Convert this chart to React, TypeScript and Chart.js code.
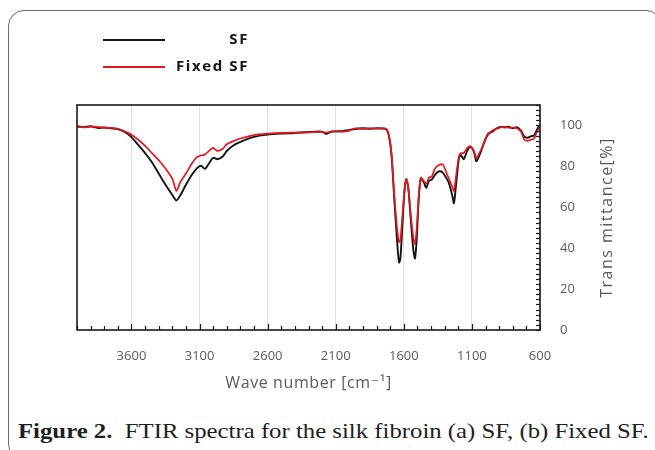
import React, { useEffect, useRef } from "react";
import { Chart, registerables } from "chart.js";

Chart.register(...registerables);

// ---- data ----
const WAVENUMBERS = [
  4000, 3950, 3900, 3850, 3800, 3750, 3700, 3650, 3600, 3550, 3500, 3450, 3400, 3350, 3300, 3270,
  3240, 3200, 3160, 3120, 3090, 3060, 3030, 3000, 2970, 2930, 2900, 2850, 2800, 2700, 2600, 2500,
  2400, 2300, 2200, 2170, 2130, 2050, 2000, 1960, 1900, 1850, 1800, 1760, 1730, 1710, 1690, 1670,
  1650, 1635, 1625, 1610, 1595, 1582, 1568, 1550, 1530, 1518, 1505, 1490, 1475, 1455, 1435, 1415,
  1395, 1370, 1345, 1315, 1290, 1270, 1245, 1232, 1215, 1195, 1180, 1160, 1135, 1110, 1085, 1068,
  1050, 1030, 1005, 980, 950, 920, 890, 860, 830, 800, 770, 740, 715, 690, 665, 645, 625, 610, 600,
];
const SF_VALUES = [
  99.5, 99.2, 99.6, 98.8, 99.0, 98.6, 98.2, 96.8, 94.3, 90.5, 86.5, 82.0, 76.5, 71.0, 66.0, 63.3,
  66.0, 71.0, 75.5, 79.0, 80.3, 78.8, 81.5, 84.2, 83.5, 84.8, 87.5, 90.3, 92.0, 94.4, 95.5, 96.0,
  96.3, 96.8, 97.0, 95.8, 97.0, 97.2, 97.8, 98.3, 98.6, 98.4, 98.6, 98.5, 98.2, 95.0, 85.0, 64.0,
  44.0, 33.0, 35.0, 52.0, 68.0, 73.5, 70.0, 55.0, 39.0, 35.0, 45.0, 65.0, 74.0, 72.5, 69.5, 73.0,
  73.5, 76.0, 77.5, 77.0, 74.5, 72.0, 66.0, 62.0, 72.0, 84.0, 85.5, 83.5, 87.5, 89.5, 87.0, 82.5,
  84.5, 88.0, 92.5, 96.0, 97.0, 98.5, 99.3, 99.0, 99.4, 98.6, 99.2, 97.5, 94.5, 94.0, 94.8, 95.0,
  97.5, 99.5, 100.0,
];
const FIXED_SF_VALUES = [
  99.8, 99.0, 99.4, 99.3, 98.9, 98.8, 98.4, 97.2, 95.5, 93.0, 90.0, 86.5, 83.0, 79.0, 74.0, 68.0,
  72.5, 76.5, 81.0, 84.5, 85.3, 85.8, 87.6, 89.0, 87.6, 88.6, 90.8, 92.4, 93.6, 95.3, 96.0, 96.4,
  96.5, 96.6, 96.9, 96.5, 97.1, 97.0, 97.5, 98.6, 98.3, 98.6, 98.4, 98.6, 98.3, 95.5, 86.0, 66.0,
  50.0, 43.0, 44.0, 56.0, 68.0, 74.0, 70.0, 57.0, 45.0, 42.0, 50.0, 66.0, 74.5, 73.0, 71.5, 74.5,
  75.0, 79.0, 80.5, 81.0, 77.5, 74.0, 70.0, 68.0, 76.0, 85.0, 86.5, 86.5, 89.0, 89.8, 87.5, 84.0,
  86.0, 88.5, 92.8, 95.5, 97.5, 98.3, 99.0, 99.3, 98.9, 99.0, 98.6, 97.0, 93.0, 92.5, 93.0, 93.5,
  96.5, 98.5, 100.0,
];
const SERIES_LABELS = ["SF", "Fixed SF"];
const SERIES_COLORS = ["#141414", "#e3181e"];
const X_TICKS = [3600, 3100, 2600, 2100, 1600, 1100, 600];
const Y_TICKS = [0, 20, 40, 60, 80, 100];
const X_RANGE = [600, 4000];
const Y_RANGE = [0, 110];
const X_MINOR_STEP = 100;
const Y_MINOR_STEP = 2.5;
const X_TITLE = "Wave number [cm⁻¹]";
const Y_TITLE = "Trans mittance[%]";
const CAPTION_BOLD = "Figure 2.";
const CAPTION_TEXT = "  FTIR spectra for the silk fibroin (a) SF, (b) Fixed SF.";

const AXIS_TEXT = "#5a5a5a";
const SANS = "'Open Sans', 'DejaVu Sans', sans-serif";

const decorPlugin = {
  id: "decor",
  afterDatasetsDraw(chart: any) {
    const { ctx, chartArea: a, scales } = chart;
    const x = scales.x;
    const y = scales.y;
    ctx.save();
    // plot frame
    ctx.strokeStyle = "#1a1a1a";
    ctx.lineWidth = 1.6;
    ctx.strokeRect(a.left, a.top, a.right - a.left, a.bottom - a.top);

    // x minor / major ticks (inward)
    ctx.lineWidth = 1.2;
    for (let v = X_RANGE[1]; v >= X_RANGE[0]; v -= X_MINOR_STEP) {
      const px = Math.round(x.getPixelForValue(v)) + 0.5;
      const major = X_TICKS.includes(v);
      ctx.beginPath();
      ctx.moveTo(px, a.bottom);
      ctx.lineTo(px, a.bottom - (major ? 6 : 4));
      ctx.stroke();
    }
    // y ticks on right (inward)
    for (let v = Y_RANGE[0]; v <= Y_RANGE[1]; v += Y_MINOR_STEP) {
      const py = Math.round(y.getPixelForValue(v)) + 0.5;
      ctx.beginPath();
      ctx.moveTo(a.right, py);
      ctx.lineTo(a.right - 4, py);
      ctx.stroke();
    }

    // axis titles
    ctx.fillStyle = AXIS_TEXT;
    ctx.font = `16px ${SANS}`;
    ctx.textAlign = "left";
    ctx.textBaseline = "middle";
    (ctx as any).letterSpacing = "0.6px";
    const xw = ctx.measureText(X_TITLE).width;
    ctx.fillText(X_TITLE, (a.left + a.right) / 2 - xw / 2, 383);

    (ctx as any).letterSpacing = "1.5px";
    const yw = ctx.measureText(Y_TITLE).width;
    ctx.save();
    ctx.translate(607, (a.top + a.bottom) / 2);
    ctx.rotate(-Math.PI / 2);
    ctx.fillText(Y_TITLE, -yw / 2, 0);
    ctx.restore();

    // legend
    const rows = [40, 67];
    (ctx as any).letterSpacing = "1.6px";
    SERIES_LABELS.forEach((label, i) => {
      ctx.strokeStyle = SERIES_COLORS[i];
      ctx.lineWidth = 1.8;
      ctx.beginPath();
      ctx.moveTo(103, rows[i]);
      ctx.lineTo(165, rows[i]);
      ctx.stroke();
      ctx.fillStyle = "#151515";
      ctx.font = `bold 15px ${SANS}`;
      ctx.textAlign = "left";
      ctx.textBaseline = "middle";
      const w = ctx.measureText(label).width;
      ctx.fillText(label, 249 - w, rows[i]);
    });
    (ctx as any).letterSpacing = "0px";
    ctx.restore();
  },
};

export default function App() {
  const ref = useRef<HTMLCanvasElement | null>(null);

  useEffect(() => {
    if (!ref.current) return;
    const chart = new Chart(ref.current, {
      type: "line",
      data: {
        datasets: [
          {
            label: SERIES_LABELS[0],
            data: WAVENUMBERS.map((w, i) => ({ x: w, y: SF_VALUES[i] })),
            borderColor: SERIES_COLORS[0],
            borderWidth: 1.9,
            pointRadius: 0,
            tension: 0.25,
            order: 2,
          },
          {
            label: SERIES_LABELS[1],
            data: WAVENUMBERS.map((w, i) => ({ x: w, y: FIXED_SF_VALUES[i] })),
            borderColor: SERIES_COLORS[1],
            borderWidth: 1.7,
            pointRadius: 0,
            tension: 0.25,
            order: 1,
          },
        ],
      },
      options: {
        responsive: false,
        animation: false,
        layout: { padding: { left: 77, top: 105, right: 0, bottom: 0 } },
        plugins: { legend: { display: false }, tooltip: { enabled: false } },
        scales: {
          x: {
            type: "linear",
            reverse: true,
            min: X_RANGE[0],
            max: X_RANGE[1],
            afterBuildTicks: (s: any) => {
              s.ticks = X_TICKS.map((v) => ({ value: v }));
            },
            afterFit: (s: any) => {
              s.height = 70;
            },
            grid: {
              color: "#dde1e7",
              lineWidth: 1,
              drawTicks: false,
            },
            border: { display: false },
            ticks: {
              padding: 18,
              color: AXIS_TEXT,
              font: { family: SANS, size: 13 },
              maxRotation: 0,
              autoSkip: false,
              callback: (v: any) => String(v),
            },
          },
          y: {
            type: "linear",
            position: "right",
            min: Y_RANGE[0],
            max: Y_RANGE[1],
            afterBuildTicks: (s: any) => {
              s.ticks = Y_TICKS.map((v) => ({ value: v }));
            },
            afterFit: (s: any) => {
              s.width = 115;
            },
            grid: { display: false, drawTicks: false },
            border: { display: false },
            ticks: {
              padding: 20,
              color: AXIS_TEXT,
              font: { family: SANS, size: 13 },
              callback: (v: any) => String(v),
            },
          },
        },
      },
      plugins: [decorPlugin],
    });
    return () => chart.destroy();
  }, []);

  return (
    <div
      style={{
        position: "fixed",
        left: 0,
        top: 0,
        width: 655,
        height: 450,
        overflow: "hidden",
        background: "#fff",
      }}
    >
      <div
        style={{
          position: "absolute",
          left: 8,
          top: 10,
          width: 654,
          height: 450,
          border: "1.5px solid #6a6a6a",
          borderRadius: 16,
          boxSizing: "border-box",
        }}
      />
      <canvas
        ref={ref}
        width={655}
        height={400}
        style={{ position: "absolute", left: 0, top: 0 }}
      />
      <div
        style={{
          position: "absolute",
          left: 18,
          top: 418,
          whiteSpace: "pre",
          fontFamily: "'Liberation Serif', 'Times New Roman', serif",
          fontSize: 22,
          color: "#1e1e1e",
          lineHeight: "26px",
          transform: "scaleX(1.125)",
          transformOrigin: "left center",
        }}
      >
        <b>{CAPTION_BOLD}</b>
        {CAPTION_TEXT}
      </div>
    </div>
  );
}
